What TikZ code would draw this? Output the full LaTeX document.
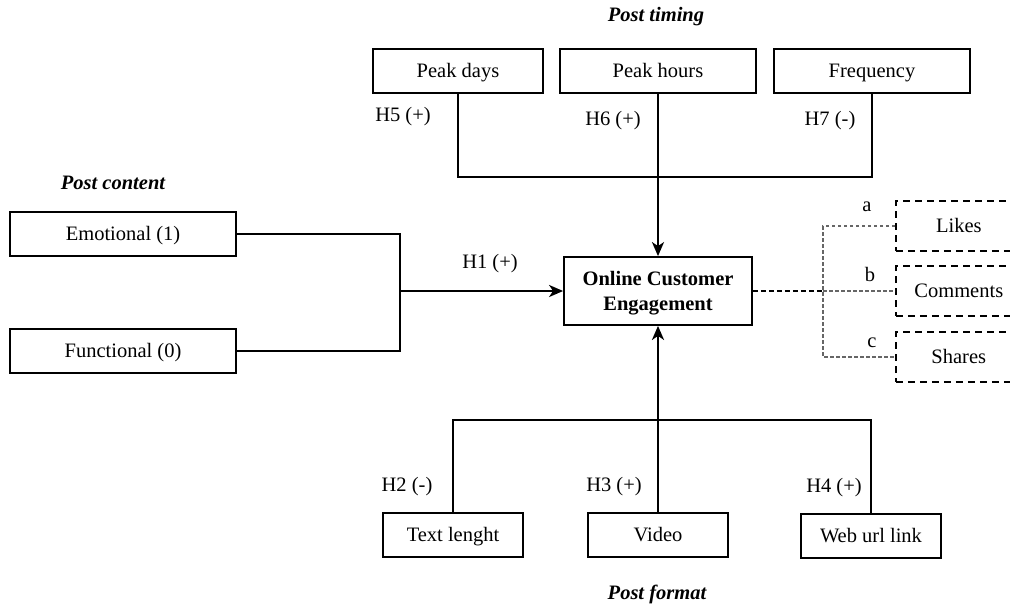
\documentclass[tikz,border=0pt]{standalone}
\usepackage{fontspec}
\setmainfont{Liberation Serif}
\usetikzlibrary{arrows.meta}
\begin{document}
\begin{tikzpicture}[x=1pt,y=-1pt,
  txt/.style={font=\fontsize{20.5}{25}\selectfont},
  box/.style={draw, line width=1.8pt, minimum height=44pt, inner sep=0pt, txt, text height=16pt, text depth=3pt},
  dbox/.style={draw, dash pattern=on 7pt off 5pt, line width=1.6pt, minimum height=50pt, minimum width=126pt, inner sep=0pt, anchor=west, txt, text height=16pt, text depth=3pt},
  conn/.style={line width=2.4pt},
  arr/.style={conn, -{Stealth[length=14pt,width=12pt,inset=4pt]}},
  mdash/.style={line width=1.8pt, dash pattern=on 5pt off 3pt},
  gdash/.style={line width=1.1pt, draw=black!60, dash pattern=on 3.5pt off 2.5pt},
  lbl/.style={txt, inner sep=0pt},
  head/.style={font=\fontsize{20.5}{25}\selectfont\bfseries\itshape, inner sep=0pt}
]
\useasboundingbox (0,0) rectangle (1010,606);

% Post timing
\node[head] (pt) at (656,17) {Post timing};
\node[box, minimum width=170pt] (pd) at (458,71) {Peak days};
\node[box, minimum width=196pt] (ph) at (658,71) {Peak hours};
\node[box, minimum width=196pt] (fr) at (872,71) {Frequency};
\node[lbl] (h5) at (403,117) {H5 (+)};
\node[lbl] (h6) at (613,121) {H6 (+)};
\node[lbl] (h7) at (830,121) {H7 (-)};

% Central construct
\node[draw, line width=1.8pt, inner sep=0pt, minimum width=188pt, minimum height=68pt] (oce) at (658,291) {};
\node[align=center, inner sep=0pt, font=\fontsize{20.5}{25}\selectfont\bfseries] (ocet) at (658,293) {Online Customer\\Engagement};

\coordinate (jt) at (658,177);
\draw[conn] (pd.south) -- (pd.south |- jt) -- (fr.south |- jt) -- (fr.south);
\draw[arr] (ph.south) -- (oce.north);

% Post content
\node[head] (pc) at (113,183) {Post content};
\node[box, minimum width=226pt] (em) at (123,234) {Emotional (1)};
\node[box, minimum width=226pt] (fu) at (123,351) {Functional (0)};
\coordinate (jl) at (400,291);
\draw[conn] (em.east) -| (jl) |- (fu.east);
\draw[arr] (jl) -- (oce.west);
\node[lbl] (h1) at (490,264) {H1 (+)};

% Post format
\node[box, minimum width=140pt] (tl) at (453,535) {Text lenght};
\node[box, minimum width=140pt] (vi) at (658,535) {Video};
\node[box, minimum width=140pt] (wu) at (871,536) {Web url link};
\coordinate (jb) at (658,420);
\draw[conn] (tl.north) |- (jb) -| (wu.north);
\draw[arr] (vi.north) -- (oce.south);
\node[lbl] (h2) at (407,487) {H2 (-)};
\node[lbl] (h3) at (614,487) {H3 (+)};
\node[lbl] (h4) at (834,488) {H4 (+)};
\node[head] (pf) at (657,594) {Post format};

% Engagement dimensions
\node[dbox] (li) at (895,226) {Likes};
\node[dbox] (co) at (895,291) {Comments};
\node[dbox] (sh) at (895,357) {Shares};
\coordinate (jr) at (823,291);
\draw[mdash] (oce.east) -- (jr);
\draw[gdash] (li.west) -| (jr) |- (sh.west);
\draw[gdash] (jr) -- (co.west);
\node[lbl] (la) at (867,207) {a};
\node[lbl] (lb) at (870,274) {b};
\node[lbl] (lc) at (872,343) {c};
\end{tikzpicture}
\end{document}
